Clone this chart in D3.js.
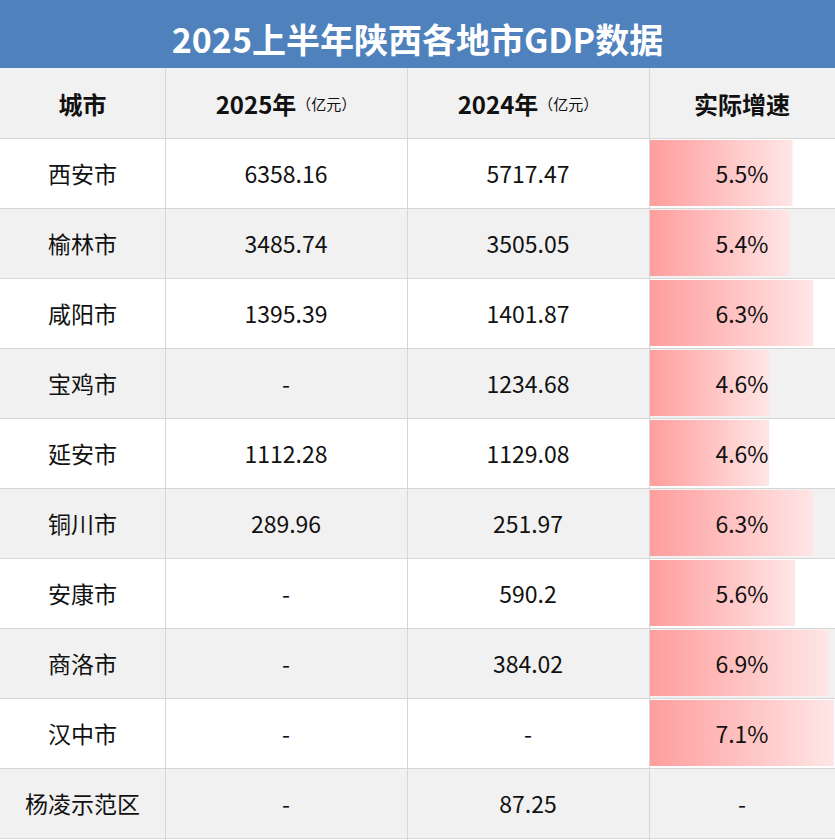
<!DOCTYPE html>
<html><head><meta charset="utf-8">
<script src="https://cdn.jsdelivr.net/npm/d3@7"></script>
<style>body{margin:0;background:#fff}</style>
</head><body><div id="vis"></div>
<script>
const cities = ["西安市","榆林市","咸阳市","宝鸡市","延安市","铜川市","安康市","商洛市","汉中市","杨凌示范区"];
const gdp2025 = [6358.16, 3485.74, 1395.39, null, 1112.28, 289.96, null, null, null, null];
const gdp2024 = [5717.47, 3505.05, 1401.87, 1234.68, 1129.08, 251.97, 590.2, 384.02, null, 87.25];
const growth = [5.5, 5.4, 6.3, 4.6, 4.6, 6.3, 5.6, 6.9, 7.1, null];
const fmt = (v) => v == null ? "-" : String(v);

const W = 835, H = 840, TITLE_H = 68, HEAD_H = 70, ROW_H = 70;
const COLS = [0, 165, 407, 649, 835];
const FONT = "'Noto Sans CJK SC', sans-serif";

const svg = d3.select("#vis").append("svg").attr("width", W).attr("height", H);

const defs = svg.append("defs");
const grad = defs.append("linearGradient").attr("id", "bar");
grad.append("stop").attr("offset", "0%").attr("stop-color", "#ff9d9d");
grad.append("stop").attr("offset", "100%").attr("stop-color", "#ffe6e6");

// title
svg.append("rect").attr("width", W).attr("height", TITLE_H).attr("fill", "#4f81bd");
svg.append("text").attr("x", W / 2).attr("y", 38).attr("text-anchor", "middle")
  .attr("dominant-baseline", "central").attr("fill", "#fff")
  .attr("font-family", FONT).attr("font-weight", "bold").attr("font-size", 34)
  .text("2025上半年陕西各地市GDP数据");

// header
const hy = TITLE_H;
svg.append("rect").attr("y", hy).attr("width", W).attr("height", HEAD_H).attr("fill", "#f1f1f1");
const heads = [["城市", ""], ["2025年", "（亿元）"], ["2024年", "（亿元）"], ["实际增速", ""]];
heads.forEach((h, i) => {
  const t = svg.append("text").attr("x", (COLS[i] + COLS[i + 1]) / 2).attr("y", hy + HEAD_H / 2)
    .attr("text-anchor", "middle").attr("dominant-baseline", "central")
    .attr("font-family", FONT).attr("font-weight", "bold").attr("font-size", 24).attr("fill", "#111");
  t.append("tspan").text(h[0]);
  if (h[1]) t.append("tspan").attr("font-size", 15).attr("font-weight", "normal").text(h[1]);
});

const y = d3.scaleBand().domain(cities).range([TITLE_H + HEAD_H, TITLE_H + HEAD_H + ROW_H * cities.length]);
const x = d3.scaleLinear().domain([0, d3.max(growth)]).range([0, COLS[4] - COLS[3] - 2]);

const rows = svg.selectAll("g.row").data(cities).enter().append("g")
  .attr("transform", (d) => "translate(0," + y(d) + ")");
rows.append("rect").attr("width", W).attr("height", ROW_H)
  .attr("fill", (d, i) => i % 2 ? "#f1f1f1" : "#fff");
rows.filter((d, i) => growth[i] != null).append("rect")
  .attr("x", COLS[3] + 1).attr("y", 2).attr("height", ROW_H - 4)
  .attr("width", (d) => x(growth[cities.indexOf(d)])).attr("fill", "url(#bar)");

const cellText = (i, val) => rows.append("text")
  .attr("x", (COLS[i] + COLS[i + 1]) / 2).attr("y", ROW_H / 2)
  .attr("text-anchor", "middle").attr("dominant-baseline", "central")
  .attr("font-family", FONT).attr("font-size", 23).attr("fill", "#111").text(val);
cellText(0, (d) => d);
cellText(1, (d, i) => fmt(gdp2025[i]));
cellText(2, (d, i) => fmt(gdp2024[i]));
cellText(3, (d, i) => growth[i] == null ? "-" : growth[i] + "%");

// grid lines
const g = svg.append("g").attr("stroke", "#d6d6d6").attr("stroke-width", 1);
const lineYs = [TITLE_H + HEAD_H].concat(cities.map((d) => y(d) + ROW_H));
g.selectAll("line.h").data(lineYs).enter().append("line")
  .attr("x1", 0).attr("x2", W).attr("y1", (d) => d + 0.5).attr("y2", (d) => d + 0.5);
g.selectAll("line.v").data(COLS.slice(1, 4)).enter().append("line")
  .attr("x1", (d) => d + 0.5).attr("x2", (d) => d + 0.5).attr("y1", TITLE_H).attr("y2", H);
</script></body></html>
